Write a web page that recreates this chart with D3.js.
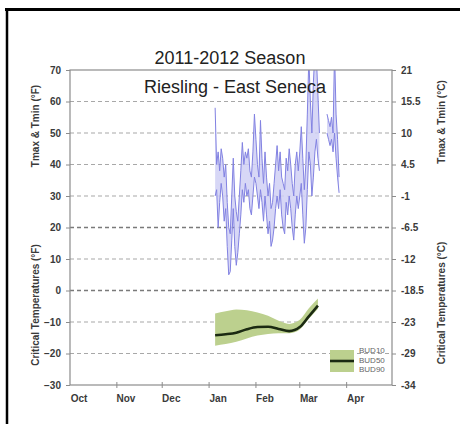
<!DOCTYPE html>
<html>
<head>
<meta charset="utf-8">
<script src="https://cdn.jsdelivr.net/npm/d3@7"></script>
<style>
  body { margin: 0; background: #fff; }
  svg { display: block; font-family: Arial, "Liberation Sans", sans-serif; }
</style>
</head>
<body>
<svg id="chart" width="460" height="424"></svg>
<script>
// tick labels
var monthLabels = ["Oct", "Nov", "Dec", "Jan", "Feb", "Mar", "Apr"];
var leftTicks = [70, 60, 50, 40, 30, 20, 10, 0, -10, -20, -30];
var rightTickLabels = ["21", "15.5", "10", "4.5", "-1", "-6.5", "-12", "-18.5", "-23", "-29", "-34"];

// daily Tmax / Tmin (F), first day 2012-01-05
var tempStart = "2012-01-05";
var tmax = [58, 40, 44, 38, 45, 42, 36, 40, 28, 20, 18, 30, 42, 30, 25, 22, 30, 38, 47, 40, 44, 42, 45, 38, 36, 44, 56,
            48, 40, 36, 54, 42, 34, 44, 36, 30, 34, 26, 28, 34, 40, 46, 38, 44, 36, 34, 32, 42, 38, 45, 40, 34, 30, 40, 44, 38,
            44, 52, 42, 32, 40, 56, 74, 60, 50, 66, 76, 74, 62, 50, null, null, null, null, 56, 54, 52, 55, 50, 76, 56, 48, 36];
var tmin = [30, 32, 20, 28, 34, 30, 22, 26, 14, 5, 6, 16, 26, 14, 8, 12, 18, 24, 32, 28, 34, 30, 32, 26, 24, 30, 36,
            34, 30, 26, 32, 28, 22, 30, 24, 18, 22, 14, 16, 20, 26, 30, 26, 32, 24, 20, 18, 28, 24, 30, 26, 20, 16, 24, 30, 26,
            30, 34, 24, 15, 20, 32, 44, 40, 30, 36, 44, 48, 42, 38, null, null, null, null, 50, 48, 46, 48, 44, 50, 42, 36, 31];

// critical bud temperatures (F)
var budDates = ["2012-01-05", "2012-01-12", "2012-01-19", "2012-01-26", "2012-02-02", "2012-02-09",
                "2012-02-16", "2012-02-23", "2012-03-01", "2012-03-07", "2012-03-13"];
var bud10 = [-7.3, -6.6, -6.0, -6.3, -7.0, -8.0, -9.6, -10.6, -9.3, -5.6, -2.5];
var bud50 = [-14.2, -13.9, -13.4, -12.3, -11.6, -11.5, -12.2, -12.9, -11.6, -8.2, -4.8];
var bud90 = [-17.5, -17.0, -16.3, -15.2, -14.3, -13.8, -13.6, -13.6, -12.4, -9.0, -5.8];

var parse = d3.timeParse("%Y-%m-%d");
var t0 = parse(tempStart);
var temps = tmax.map(function(v, i) {
    return { date: d3.timeDay.offset(t0, i), hi: v, lo: tmin[i] };
});
var buds = budDates.map(function(d, i) {
    return { date: parse(d), b10: bud10[i], b50: bud50[i], b90: bud90[i] };
});

var svg = d3.select("#chart");
var plotLeft = 70, plotRight = 392, plotTop = 70, plotBottom = 385;

var x = d3.scaleTime()
    .domain([parse("2011-10-01"), parse("2012-05-01")])
    .range([plotLeft, plotRight]);
var y = d3.scaleLinear()
    .domain([-30, 70])
    .range([plotBottom, plotTop]);

// outer frame
svg.append("line").attr("x1", 5).attr("x2", 460).attr("y1", 9.5).attr("y2", 9.5)
    .attr("stroke", "#000").attr("stroke-width", 3);
svg.append("line").attr("x1", 7).attr("x2", 7).attr("y1", 8).attr("y2", 424)
    .attr("stroke", "#000").attr("stroke-width", 2.5);

// gridlines
svg.append("g").selectAll("line")
    .data(leftTicks.filter(function(d) { return d > -30 && d < 70; }))
    .enter().append("line")
    .attr("x1", plotLeft).attr("x2", plotRight)
    .attr("y1", function(d) { return y(d); })
    .attr("y2", function(d) { return y(d); })
    .attr("stroke", function(d) { return (d === 20 || d === 0) ? "#7a7a7a" : "#a8a8a8"; })
    .attr("stroke-width", function(d) { return (d === 20 || d === 0) ? 1.6 : 1.1; })
    .attr("stroke-dasharray", "4,3");

svg.append("clipPath").attr("id", "plotclip")
    .append("rect").attr("x", plotLeft).attr("y", plotTop)
    .attr("width", plotRight - plotLeft).attr("height", plotBottom - plotTop);

var plot = svg.append("g").attr("clip-path", "url(#plotclip)");

// Tmax / Tmin
var tempArea = d3.area()
    .defined(function(d) { return d.hi !== null; })
    .x(function(d) { return x(d.date); })
    .y0(function(d) { return y(d.lo); })
    .y1(function(d) { return y(d.hi); });

plot.append("path")
    .datum(temps)
    .attr("d", tempArea)
    .attr("fill", "#d0d0f5")
    .attr("opacity", 0.85);

["hi", "lo"].forEach(function(k) {
    plot.append("path")
        .datum(temps)
        .attr("d", d3.line()
            .defined(function(d) { return d[k] !== null; })
            .x(function(d) { return x(d.date); })
            .y(function(d) { return y(d[k]); }))
        .attr("fill", "none")
        .attr("stroke", "#8282e2")
        .attr("stroke-width", 1);
});

// critical temperature band
plot.append("path")
    .datum(buds)
    .attr("d", d3.area()
        .curve(d3.curveMonotoneX)
        .x(function(d) { return x(d.date); })
        .y0(function(d) { return y(d.b90); })
        .y1(function(d) { return y(d.b10); }))
    .attr("fill", "#bcd08e");

plot.append("path")
    .datum(buds)
    .attr("d", d3.line()
        .curve(d3.curveMonotoneX)
        .x(function(d) { return x(d.date); })
        .y(function(d) { return y(d.b50); }))
    .attr("fill", "none")
    .attr("stroke", "#1b2a12")
    .attr("stroke-width", 2.6);

// plot frame
svg.append("rect")
    .attr("x", plotLeft).attr("y", plotTop)
    .attr("width", plotRight - plotLeft).attr("height", plotBottom - plotTop)
    .attr("fill", "none").attr("stroke", "#8c8c8c").attr("stroke-width", 1.2);

// left axis
var leftAxis = svg.append("g")
    .attr("transform", "translate(" + plotLeft + ",0)")
    .call(d3.axisLeft(y).tickValues(leftTicks).tickSize(4).tickPadding(5));
leftAxis.select(".domain").remove();
leftAxis.selectAll("line").attr("stroke", "#8c8c8c");
leftAxis.selectAll("text").attr("fill", "#3a3a3a").style("font-size", "10px").style("font-weight", "bold");

// right axis
var rightAxis = svg.append("g")
    .attr("transform", "translate(" + plotRight + ",0)")
    .call(d3.axisRight(y).tickValues(leftTicks).tickSize(4).tickPadding(5)
        .tickFormat(function(d, i) { return rightTickLabels[i]; }));
rightAxis.select(".domain").remove();
rightAxis.selectAll("line").attr("stroke", "#8c8c8c");
rightAxis.selectAll("text").attr("fill", "#3a3a3a").style("font-size", "10px").style("font-weight", "bold");

// bottom axis: ticks at month starts, labels a week in
var monthStarts = d3.timeMonth.range(parse("2011-11-01"), parse("2012-05-01"));
svg.append("g").selectAll("line")
    .data(monthStarts)
    .enter().append("line")
    .attr("x1", function(d) { return x(d); })
    .attr("x2", function(d) { return x(d); })
    .attr("y1", plotBottom - 3).attr("y2", plotBottom + 3)
    .attr("stroke", "#8c8c8c");

svg.append("g").selectAll("text")
    .data(monthLabels)
    .enter().append("text")
    .attr("x", function(d, i) { return x(d3.timeDay.offset(d3.timeMonth.offset(parse("2011-10-01"), i), 6)); })
    .attr("y", plotBottom + 17)
    .attr("text-anchor", "middle")
    .attr("fill", "#3a3a3a")
    .style("font-size", "10px")
    .style("font-weight", "bold")
    .text(function(d) { return d; });

// titles
svg.append("text")
    .attr("x", 230).attr("y", 64)
    .attr("text-anchor", "middle")
    .style("font-size", "18px")
    .attr("fill", "#222")
    .text("2011-2012 Season");

svg.append("text")
    .attr("x", 235).attr("y", 93)
    .attr("text-anchor", "middle")
    .style("font-size", "18px")
    .attr("fill", "#222")
    .text("Riesling - East Seneca");

// axis titles
function axisTitle(tx, ty, label) {
    svg.append("text")
        .attr("transform", "translate(" + tx + "," + ty + ") rotate(-90)")
        .attr("text-anchor", "middle")
        .attr("fill", "#3a3a3a")
        .style("font-size", "10px")
        .style("font-weight", "bold")
        .text(label);
}
axisTitle(39, 126, "Tmax & Tmin (°F)");
axisTitle(39, 305, "Critical Temperatures (°F)");
axisTitle(445, 122, "Tmax & Tmin (°C)");
axisTitle(445, 303, "Critical Temperatures (°C)");

// legend
var legend = svg.append("g");
legend.append("rect")
    .attr("x", 330).attr("y", 350).attr("width", 24).attr("height", 22)
    .attr("fill", "#bcd08e");
legend.append("line")
    .attr("x1", 330).attr("x2", 354).attr("y1", 361).attr("y2", 361)
    .attr("stroke", "#1b2a12").attr("stroke-width", 2.6);
legend.selectAll(".lab")
    .data(["BUD10", "BUD50", "BUD90"])
    .enter().append("text")
    .attr("class", "lab")
    .attr("x", 359)
    .attr("y", function(d, i) { return 353 + i * 9.5; })
    .attr("fill", "#666")
    .style("font-size", "8px")
    .text(function(d) { return d; });
</script>
</body>
</html>
